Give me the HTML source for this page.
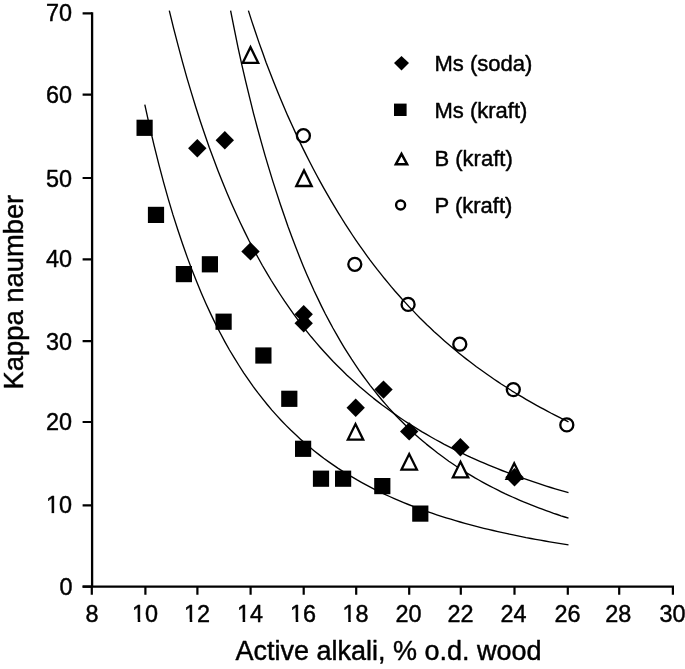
<!DOCTYPE html><html><head><meta charset="utf-8"><title>Kappa number vs active alkali</title><style>html,body{margin:0;padding:0;background:#fff}body{width:685px;height:669px;position:relative;overflow:hidden}</style></head><body>
<svg width="685" height="669" viewBox="0 0 685 669" style="position:absolute;left:0;top:0">
<polyline fill="none" stroke="#000" stroke-width="1.35" stroke-linejoin="round" points="144.8,104.6 149.5,125.9 154.2,145.9 158.9,164.7 163.6,182.4 168.3,199.1 173.0,214.9 177.8,229.7 182.5,243.8 187.2,257.1 191.9,269.7 196.6,281.6 201.3,292.9 206.0,303.7 210.7,313.9 215.4,323.6 220.1,332.8 224.8,341.6 229.5,350.0 234.3,357.9 239.0,365.5 243.7,372.8 248.4,379.7 253.1,386.4 257.8,392.7 262.5,398.7 267.2,404.5 271.9,410.1 276.6,415.4 281.3,420.5 286.0,425.4 290.7,430.1 295.5,434.6 300.2,438.9 304.9,443.1 309.6,447.1 314.3,450.9 319.0,454.6 323.7,458.2 328.4,461.6 333.1,464.9 337.8,468.1 342.5,471.1 347.2,474.1 352.0,476.9 356.7,479.7 361.4,482.3 366.1,484.9 370.8,487.4 375.5,489.8 380.2,492.1 384.9,494.4 389.6,496.5 394.3,498.6 399.0,500.6 403.7,502.6 408.4,504.5 413.2,506.4 417.9,508.1 422.6,509.9 427.3,511.6 432.0,513.2 436.7,514.8 441.4,516.3 446.1,517.8 450.8,519.2 455.5,520.6 460.2,522.0 464.9,523.3 469.7,524.6 474.4,525.9 479.1,527.1 483.8,528.3 488.5,529.4 493.2,530.5 497.9,531.6 502.6,532.7 507.3,533.7 512.0,534.7 516.7,535.7 521.4,536.6 526.1,537.6 530.9,538.5 535.6,539.4 540.3,540.2 545.0,541.0 549.7,541.9 554.4,542.7 559.1,543.4 563.8,544.2 568.5,544.9"/>
<polyline fill="none" stroke="#000" stroke-width="1.35" stroke-linejoin="round" points="169.3,10.6 173.7,28.7 178.2,45.9 182.6,62.4 187.0,78.1 191.5,93.1 195.9,107.5 200.3,121.3 204.8,134.5 209.2,147.2 213.7,159.3 218.1,170.9 222.5,182.1 227.0,192.9 231.4,203.2 235.8,213.1 240.3,222.7 244.7,231.9 249.1,240.8 253.6,249.3 258.0,257.5 262.4,265.5 266.9,273.1 271.3,280.5 275.8,287.6 280.2,294.5 284.6,301.2 289.1,307.6 293.5,313.8 297.9,319.9 302.4,325.7 306.8,331.3 311.2,336.8 315.7,342.1 320.1,347.2 324.6,352.2 329.0,357.0 333.4,361.7 337.9,366.2 342.3,370.6 346.7,374.9 351.2,379.0 355.6,383.1 360.0,387.0 364.5,390.8 368.9,394.5 373.3,398.1 377.8,401.6 382.2,405.0 386.7,408.3 391.1,411.5 395.5,414.6 400.0,417.7 404.4,420.7 408.8,423.6 413.3,426.4 417.7,429.1 422.1,431.8 426.6,434.4 431.0,437.0 435.4,439.5 439.9,441.9 444.3,444.3 448.8,446.6 453.2,448.8 457.6,451.1 462.1,453.2 466.5,455.3 470.9,457.4 475.4,459.4 479.8,461.3 484.2,463.2 488.7,465.1 493.1,466.9 497.5,468.7 502.0,470.5 506.4,472.2 510.9,473.9 515.3,475.5 519.7,477.1 524.2,478.7 528.6,480.2 533.0,481.7 537.5,483.2 541.9,484.7 546.3,486.1 550.8,487.5 555.2,488.8 559.6,490.1 564.1,491.4 568.5,492.7"/>
<polyline fill="none" stroke="#000" stroke-width="1.35" stroke-linejoin="round" points="230.6,10.6 234.4,29.6 238.1,47.8 241.9,65.2 245.8,81.9 249.7,97.9 253.5,113.3 257.4,128.0 261.3,142.1 265.1,155.6 269.0,168.6 272.8,181.1 276.7,193.1 280.5,204.7 284.3,215.8 288.0,226.5 291.8,236.7 295.5,246.6 299.3,256.2 303.0,265.4 306.7,274.2 310.5,282.8 314.2,291.0 318.0,298.9 321.7,306.6 325.4,314.0 329.2,321.1 332.9,328.0 336.7,334.7 340.4,341.1 344.1,347.3 347.9,353.4 351.6,359.2 355.4,364.8 359.1,370.3 362.8,375.5 366.6,380.6 370.3,385.6 374.1,390.4 377.8,395.0 381.5,399.5 385.3,403.9 389.0,408.1 392.8,412.2 396.5,416.2 400.2,420.0 404.0,423.8 407.7,427.4 411.5,431.0 415.2,434.4 418.9,437.7 422.7,440.9 426.4,444.1 430.2,447.1 433.9,450.1 437.6,453.0 441.4,455.8 445.1,458.5 448.8,461.2 452.6,463.8 456.3,466.3 460.1,468.7 463.8,471.1 467.5,473.4 471.3,475.7 475.0,477.9 478.8,480.0 482.5,482.1 486.2,484.1 490.0,486.1 493.7,488.0 497.5,489.9 501.2,491.8 504.9,493.6 508.7,495.3 512.4,497.0 516.2,498.7 519.9,500.3 523.6,501.9 527.4,503.4 531.1,504.9 534.9,506.4 538.6,507.8 542.3,509.2 546.1,510.6 549.8,511.9 553.6,513.3 557.3,514.5 561.0,515.8 564.8,517.0 568.5,518.2"/>
<polyline fill="none" stroke="#000" stroke-width="1.35" stroke-linejoin="round" points="248.4,10.6 251.9,21.6 255.5,32.2 259.0,42.6 262.6,52.6 266.1,62.4 269.8,71.9 273.4,81.2 277.0,90.2 280.6,99.0 284.2,107.5 287.8,115.9 291.5,124.0 295.1,131.9 298.7,139.6 302.3,147.1 305.9,154.4 309.5,161.5 313.1,168.5 316.7,175.3 320.3,181.9 323.9,188.4 327.5,194.7 331.1,200.9 334.7,206.9 338.3,212.8 341.8,218.5 345.3,224.2 348.9,229.7 352.4,235.0 356.0,240.3 359.5,245.4 363.1,250.4 366.6,255.3 370.1,260.1 373.7,264.8 377.2,269.4 380.8,273.9 384.3,278.3 387.9,282.6 391.4,286.9 394.9,291.0 398.5,295.0 402.0,299.0 405.6,302.9 409.1,306.7 412.7,310.4 416.2,314.1 419.7,317.7 423.3,321.2 426.8,324.7 430.4,328.0 433.9,331.4 437.4,334.6 441.0,337.8 444.5,340.9 448.1,344.0 451.6,347.0 455.2,350.0 458.7,352.9 462.2,355.7 465.8,358.6 469.3,361.3 472.9,364.0 476.4,366.7 480.0,369.3 483.5,371.8 487.0,374.3 490.6,376.8 494.1,379.2 497.7,381.6 501.2,384.0 504.8,386.3 508.3,388.5 511.8,390.8 515.4,393.0 518.9,395.1 522.5,397.2 526.0,399.3 529.6,401.4 533.1,403.4 536.6,405.4 540.2,407.3 543.7,409.2 547.3,411.1 550.8,413.0 554.4,414.8 557.9,416.6 561.4,418.4 565.0,420.1 568.5,421.9"/>
<path d="M92.1 12.3V587.8M82.6 586.7H674" stroke="#000" stroke-width="2.3" fill="none"/>
<path d="M82.6 586.7H92M82.6 505.3H92M82.6 422.0H92M82.6 341.1H92M82.6 259.4H92M82.6 178.0H92M82.6 94.7H92M82.6 13.4H92M91.8 586.7V594.7M145.4 586.7V594.7M197.4 586.7V594.7M250.6 586.7V594.7M303.7 586.7V594.7M356.2 586.7V594.7M409.2 586.7V594.7M460.8 586.7V594.7M514.5 586.7V594.7M567.8 586.7V594.7M619.2 586.7V594.7M672.9 586.7V594.7" stroke="#000" stroke-width="2.2" fill="none"/>
<path d="M242.8 62.8L250.5 47.2L258.2 62.8Z" fill="#fff" stroke="#000" stroke-width="2.3"/>
<path d="M296.3 186.0L304.0 170.4L311.7 186.0Z" fill="#fff" stroke="#000" stroke-width="2.3"/>
<path d="M347.8 439.7L355.5 424.1L363.2 439.7Z" fill="#fff" stroke="#000" stroke-width="2.3"/>
<path d="M401.5 469.6L409.2 454.0L416.9 469.6Z" fill="#fff" stroke="#000" stroke-width="2.3"/>
<path d="M452.8 477.4L460.5 461.8L468.2 477.4Z" fill="#fff" stroke="#000" stroke-width="2.3"/>
<path d="M506.5 478.9L514.2 463.3L521.9 478.9Z" fill="#fff" stroke="#000" stroke-width="2.3"/>
<rect x="136.5" y="119.7" width="16.2" height="16.2" fill="#000"/>
<rect x="147.9" y="206.8" width="16.2" height="16.2" fill="#000"/>
<rect x="175.8" y="266.0" width="16.2" height="16.2" fill="#000"/>
<rect x="201.8" y="256.2" width="16.2" height="16.2" fill="#000"/>
<rect x="215.5" y="313.6" width="16.2" height="16.2" fill="#000"/>
<rect x="255.3" y="347.4" width="16.2" height="16.2" fill="#000"/>
<rect x="281.2" y="390.7" width="16.2" height="16.2" fill="#000"/>
<rect x="295.0" y="440.7" width="16.2" height="16.2" fill="#000"/>
<rect x="312.9" y="470.6" width="16.2" height="16.2" fill="#000"/>
<rect x="335.0" y="470.6" width="16.2" height="16.2" fill="#000"/>
<rect x="374.2" y="478.0" width="16.2" height="16.2" fill="#000"/>
<rect x="412.2" y="505.5" width="16.2" height="16.2" fill="#000"/>
<path d="M188.1 148.3L197.3 139.1L206.5 148.3L197.3 157.5Z" fill="#000"/>
<path d="M215.6 140.3L224.8 131.1L234.0 140.3L224.8 149.5Z" fill="#000"/>
<path d="M241.3 251.4L250.5 242.2L259.7 251.4L250.5 260.6Z" fill="#000"/>
<path d="M294.5 314.2L303.7 305.0L312.9 314.2L303.7 323.4Z" fill="#000"/>
<path d="M294.5 323.2L303.7 314.0L312.9 323.2L303.7 332.4Z" fill="#000"/>
<path d="M346.5 407.8L355.7 398.6L364.9 407.8L355.7 417.0Z" fill="#000"/>
<path d="M374.3 389.6L383.5 380.4L392.7 389.6L383.5 398.8Z" fill="#000"/>
<path d="M400.0 431.4L409.2 422.2L418.4 431.4L409.2 440.6Z" fill="#000"/>
<path d="M451.2 447.3L460.4 438.1L469.6 447.3L460.4 456.5Z" fill="#000"/>
<path d="M505.3 477.2L514.5 468.0L523.7 477.2L514.5 486.4Z" fill="#000"/>
<circle cx="303.4" cy="135.7" r="6.5" fill="none" stroke="#000" stroke-width="2.3"/>
<circle cx="354.8" cy="264.3" r="6.5" fill="none" stroke="#000" stroke-width="2.3"/>
<circle cx="408.1" cy="304.4" r="6.5" fill="none" stroke="#000" stroke-width="2.3"/>
<circle cx="459.8" cy="344.2" r="6.5" fill="none" stroke="#000" stroke-width="2.3"/>
<circle cx="513.3" cy="389.6" r="6.5" fill="none" stroke="#000" stroke-width="2.3"/>
<circle cx="566.8" cy="424.9" r="6.5" fill="none" stroke="#000" stroke-width="2.3"/>
<path d="M394 63.1L401.5 55.9L409 63.1L401.5 70.4Z" fill="#000"/>
<rect x="394" y="103.6" width="12.6" height="12.4" fill="#000"/>
<path d="M395.9 164.2L401.5 153.8L407.1 164.2Z" fill="#fff" stroke="#000" stroke-width="2.5"/>
<circle cx="400.6" cy="205" r="4.5" fill="#fff" stroke="#000" stroke-width="2.4"/>
<g font-family="Liberation Sans, Arial, sans-serif" fill="#000" stroke="#000" stroke-width="0.45" stroke-linejoin="round">
<text transform="translate(72.6 594.8) scale(0.96 1)" font-size="24.4" text-anchor="end">0</text>
<text transform="translate(72.0 513.1) scale(0.96 1)" font-size="24.4" text-anchor="end">10</text>
<text transform="translate(72.0 430.3) scale(0.96 1)" font-size="24.4" text-anchor="end">20</text>
<text transform="translate(72.0 349.5) scale(0.96 1)" font-size="24.4" text-anchor="end">30</text>
<text transform="translate(72.0 267.4) scale(0.96 1)" font-size="24.4" text-anchor="end">40</text>
<text transform="translate(72.0 186.6) scale(0.96 1)" font-size="24.4" text-anchor="end">50</text>
<text transform="translate(72.0 103.1) scale(0.96 1)" font-size="24.4" text-anchor="end">60</text>
<text transform="translate(72.0 21.1) scale(0.96 1)" font-size="24.4" text-anchor="end">70</text>
<text transform="translate(92.1 621.7) scale(0.96 1)" font-size="24.4" text-anchor="middle">8</text>
<text transform="translate(145.1 621.7) scale(0.96 1)" font-size="24.4" text-anchor="middle">10</text>
<text transform="translate(197.1 621.7) scale(0.96 1)" font-size="24.4" text-anchor="middle">12</text>
<text transform="translate(250.0 621.7) scale(0.96 1)" font-size="24.4" text-anchor="middle">14</text>
<text transform="translate(303.1 621.7) scale(0.96 1)" font-size="24.4" text-anchor="middle">16</text>
<text transform="translate(355.6 621.7) scale(0.96 1)" font-size="24.4" text-anchor="middle">18</text>
<text transform="translate(408.6 621.7) scale(0.96 1)" font-size="24.4" text-anchor="middle">20</text>
<text transform="translate(460.5 621.7) scale(0.96 1)" font-size="24.4" text-anchor="middle">22</text>
<text transform="translate(513.5 621.7) scale(0.96 1)" font-size="24.4" text-anchor="middle">24</text>
<text transform="translate(567.4 621.7) scale(0.96 1)" font-size="24.4" text-anchor="middle">26</text>
<text transform="translate(618.2 621.7) scale(0.96 1)" font-size="24.4" text-anchor="middle">28</text>
<text transform="translate(672.4 621.7) scale(0.96 1)" font-size="24.4" text-anchor="middle">30</text>
<text transform="translate(434.5 71.0) scale(1.0 1)" font-size="22">Ms (soda)</text>
<text transform="translate(434.5 117.6) scale(1.0 1)" font-size="22">Ms (kraft)</text>
<text transform="translate(434.5 165.5) scale(1.0 1)" font-size="22">B (kraft)</text>
<text transform="translate(434.5 212.8) scale(1.0 1)" font-size="22">P (kraft)</text>
<text transform="translate(388.5 660.0) scale(1.0 1)" font-size="27.0" text-anchor="middle">Active alkali, % o.d. wood</text>
<text transform="translate(22.9 292.1) rotate(-90) scale(0.991 1)" font-size="27.6" text-anchor="middle">Kappa naumber</text>
</g>
<path d="M132.26 619.40H137.72V622.00H140.29V619.40H145.56V623.30H132.26Z" fill="#fff"/>
<path d="M184.26 619.40H189.72V622.00H192.29V619.40H197.56V623.30H184.26Z" fill="#fff"/>
<path d="M237.16 619.40H242.62V622.00H245.19V619.40H250.46V623.30H237.16Z" fill="#fff"/>
<path d="M290.26 619.40H295.72V622.00H298.29V619.40H303.56V623.30H290.26Z" fill="#fff"/>
<path d="M342.76 619.40H348.22V622.00H350.79V619.40H356.06V623.30H342.76Z" fill="#fff"/>
<path d="M46.14 510.80H51.59V513.40H54.16V510.80H59.44V514.70H46.14Z" fill="#fff"/>
</svg>
</body></html>
